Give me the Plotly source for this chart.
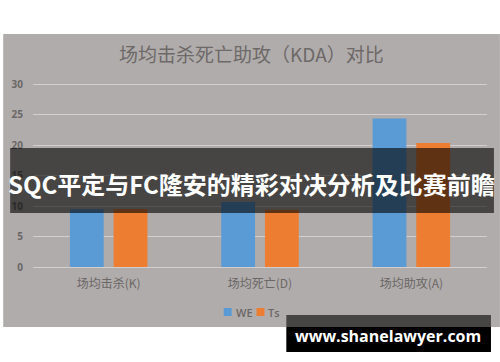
import plotly.graph_objects as go

categories = ["场均击杀(K)", "场均死亡(D)", "场均助攻(A)"]
we_values = [9.5, 10.7, 24.4]
ts_values = [9.5, 9.4, 20.4]
series_names = ["WE", "Ts"]
series_colors = ["#5b9bd5", "#ed7d31"]
y_ticks = [0, 5, 10, 15, 20, 25, 30]
title_text = "场均击杀死亡助攻（KDA）对比"
banner_text = "SQC平定与FC隆安的精彩对决分析及比赛前瞻"
watermark_text = "www.shanelawyer.com"

W, H = 500, 362
ML, MR, MT, MB = 30, 13, 81, 92
PW, PH = W - ML - MR, H - MT - MB


def xp(px):
    return (px - ML) / PW


def yp(py):
    return (H - MB - py) / PH


FONT = "Noto Sans CJK SC, Noto Sans, sans-serif"
TXT = "#6b6766"

fig = go.Figure()
for name, vals, col in zip(series_names, [we_values, ts_values], series_colors):
    fig.add_trace(go.Bar(x=categories, y=vals, name=name, marker_color=col, marker_line_width=0))

px_per_unit = 182.5 / 30
y_lo = -(270 - 267) / px_per_unit
y_hi = (267 - 81) / px_per_unit

fig.update_layout(
    width=W, height=H,
    margin=dict(l=ML, r=MR, t=MT, b=MB, pad=0),
    paper_bgcolor="white",
    plot_bgcolor="rgba(0,0,0,0)",
    barmode="group",
    bargap=0.422,
    bargroupgap=0.227,
    font=dict(family=FONT, color=TXT),
    showlegend=False,
    xaxis=dict(showgrid=False, zeroline=False, showline=False, ticks="",
               tickfont=dict(size=12, color=TXT), ticklabelstandoff=5),
    yaxis=dict(range=[y_lo, y_hi], tickvals=y_ticks, showgrid=True, gridcolor="#d2cfce", gridwidth=1,
               zeroline=False, showline=False, ticks="", ticklabelstandoff=9,
               tickfont=dict(size=10, color=TXT, family="Open Sans, sans-serif", weight="bold")),
)

shapes = [
    dict(type="rect", xref="paper", yref="paper", x0=xp(0), x1=xp(500), y0=yp(327), y1=yp(34),
         fillcolor="#b0acab", line_width=0, layer="below"),
]

# legend (custom, compact like the reference)
legend_sq_x = [222, 255]
legend_txt_x = [233, 266]
for name, col, sx, tx in zip(series_names, series_colors, legend_sq_x, legend_txt_x):
    shapes.append(dict(type="rect", xref="paper", yref="paper", x0=xp(sx), x1=xp(sx + 8),
                       y0=yp(316), y1=yp(308), fillcolor=col, line_width=0, layer="above"))
    fig.add_annotation(text=name, xref="paper", yref="paper", x=xp(tx), y=yp(312),
                       xanchor="left", yanchor="middle", showarrow=False, borderpad=0,
                       font=dict(size=11, color=TXT, family="Open Sans, sans-serif", weight=600))

shapes += [
    dict(type="rect", xref="paper", yref="paper", x0=xp(7), x1=xp(494), y0=yp(213), y1=yp(148),
         fillcolor="rgba(0,0,0,0.6)", line_width=0, layer="above"),
    dict(type="rect", xref="paper", yref="paper", x0=xp(285), x1=xp(491), y0=yp(327), y1=yp(315),
         fillcolor="rgba(0,0,0,0.6)", line_width=0, layer="above"),
    dict(type="rect", xref="paper", yref="paper", x0=xp(285), x1=xp(491), y0=yp(352), y1=yp(327),
         fillcolor="#000000", line_width=0, layer="above"),
]
fig.update_layout(shapes=shapes)

fig.add_annotation(text=title_text, xref="paper", yref="paper", x=xp(250), y=yp(53),
                   xanchor="center", yanchor="middle", showarrow=False,
                   font=dict(size=19, color="#6d6968", family=FONT))
fig.add_annotation(text=banner_text, xref="paper", yref="paper", x=xp(250), y=yp(183),
                   xanchor="center", yanchor="middle", showarrow=False,
                   font=dict(size=24, color="white", family=FONT, weight="bold"))
fig.add_annotation(text=watermark_text, xref="paper", yref="paper", x=xp(387), y=yp(336),
                   xanchor="center", yanchor="middle", showarrow=False,
                   font=dict(size=16, color="white", family="Open Sans, sans-serif", weight="bold"))

fig.write_html("out.html")
